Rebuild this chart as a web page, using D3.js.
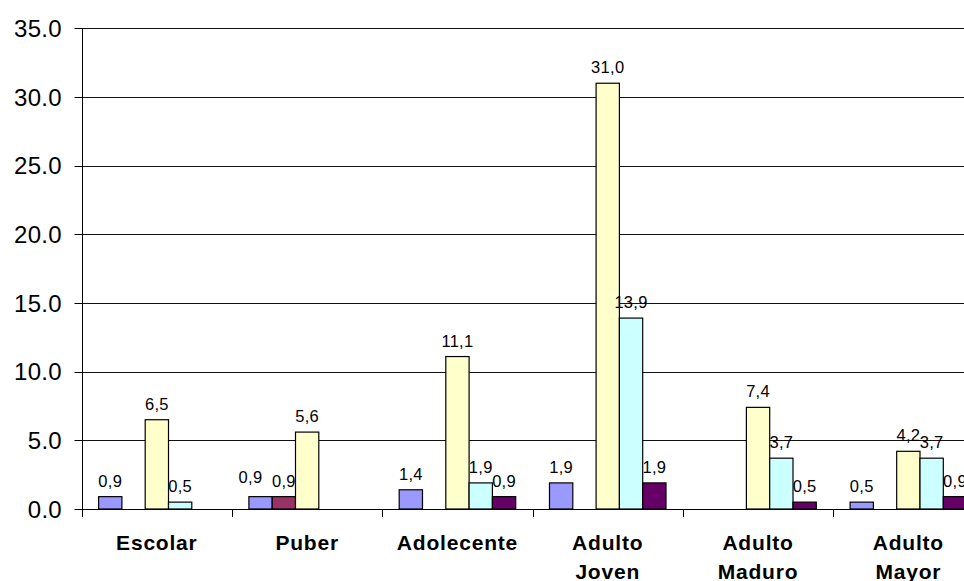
<!DOCTYPE html>
<html>
<head>
<meta charset="utf-8">
<script src="https://cdn.jsdelivr.net/npm/d3@7/dist/d3.min.js"></script>
<style>
  html, body { margin: 0; padding: 0; background: #fff; }
  svg { display: block; font-family: Arial, "Liberation Sans", sans-serif; }
</style>
</head>
<body>
<svg id="chart" width="964" height="581"></svg>
<script>
// Age groups (two-line labels split on "\n")
const categories = ["Escolar", "Puber", "Adolecente", "Adulto\nJoven", "Adulto\nMaduro", "Adulto\nMayor"];
// Five series; null = no bar in that group
const seriesNames = ["s1", "s2", "s3", "s4", "s5"];
const seriesColors = ["#9999FF", "#993366", "#FFFFCC", "#CCFFFF", "#660066"];
const s1 = [0.9, 0.9, 1.4, 1.9, null, 0.5];
const s2 = [null, 0.9, null, null, null, null];
const s3 = [6.5, 5.6, 11.1, 31.0, 7.4, 4.2];
const s4 = [0.5, null, 1.9, 13.9, 3.7, 3.7];
const s5 = [null, null, 0.9, 1.9, 0.5, 0.9];
const seriesValues = [s1, s2, s3, s4, s5];
const yTicks = [0, 5, 10, 15, 20, 25, 30, 35];

const svg = d3.select("#chart");
const W = 964, H = 581;
svg.append("rect").attr("width", W).attr("height", H).attr("fill", "#fff");

const plotLeft = 81.7, bandW = 150.3;
const plotTop = 28.3, plotBottom = 509;

const x0 = d3.scaleBand().domain(categories)
  .range([plotLeft, plotLeft + bandW * categories.length]).padding(0);
const x1 = d3.scaleBand().domain(seriesNames)
  .range([0, x0.bandwidth()]).paddingInner(0).paddingOuter(0.725);
const y = d3.scaleLinear().domain([0, 35]).range([plotBottom, plotTop]);
const fmt = d3.format(".1f");

// Horizontal gridlines
svg.append("g").selectAll("line").data(yTicks.filter(t => t > 0)).join("line")
  .attr("x1", plotLeft).attr("x2", W)
  .attr("y1", d => Math.round(y(d)) + 0.5).attr("y2", d => Math.round(y(d)) + 0.5)
  .attr("stroke", "#111").attr("stroke-width", 1);

// Y axis
const yAxis = svg.append("g").attr("transform", `translate(${Math.round(plotLeft) + 0.5},0)`);
yAxis.append("line").attr("x1", 0).attr("x2", 0)
  .attr("y1", Math.round(plotTop)).attr("y2", Math.round(plotBottom) + 0.5)
  .attr("stroke", "#000");
yAxis.selectAll("line.tick").data(yTicks).join("line").attr("class", "tick")
  .attr("x1", -8).attr("x2", 0)
  .attr("y1", d => Math.round(y(d)) + 0.5).attr("y2", d => Math.round(y(d)) + 0.5)
  .attr("stroke", "#000");
yAxis.selectAll("text").data(yTicks).join("text")
  .attr("x", -20.5).attr("y", d => y(d) + 8.7)
  .attr("text-anchor", "end").attr("font-size", 24).attr("letter-spacing", 0.3)
  .attr("fill", "#000")
  .text(d => fmt(d));

// X axis
const xAxis = svg.append("g");
xAxis.append("line").attr("x1", plotLeft).attr("x2", W)
  .attr("y1", Math.round(plotBottom) + 0.5).attr("y2", Math.round(plotBottom) + 0.5)
  .attr("stroke", "#000");
xAxis.selectAll("line.tick").data(categories).join("line").attr("class", "tick")
  .attr("x1", d => Math.round(x0(d)) + 0.5).attr("x2", d => Math.round(x0(d)) + 0.5)
  .attr("y1", Math.round(plotBottom)).attr("y2", Math.round(plotBottom) + 8)
  .attr("stroke", "#000");

const catLabels = xAxis.selectAll("text").data(categories).join("text")
  .attr("x", d => x0(d) + x0.bandwidth() / 2)
  .attr("y", 550)
  .attr("text-anchor", "middle").attr("font-size", 21).attr("font-weight", "bold")
  .attr("letter-spacing", 0.8)
  .attr("fill", "#000");
catLabels.each(function(d) {
  const parts = d.split("\n");
  const t = d3.select(this);
  parts.forEach((p, i) => {
    t.append("tspan").attr("x", x0(d) + x0.bandwidth() / 2)
      .attr("dy", i === 0 ? 0 : 28.5).text(p);
  });
});

// Bars
const bars = [];
seriesValues.forEach((vals, si) => {
  vals.forEach((v, ci) => {
    if (v !== null) bars.push({ cat: categories[ci], s: seriesNames[si], color: seriesColors[si], v });
  });
});

const g = svg.append("g");
g.selectAll("rect").data(bars).join("rect")
  .attr("x", d => x0(d.cat) + x1(d.s))
  .attr("y", d => y(d.v))
  .attr("width", x1.bandwidth())
  .attr("height", d => y(0) - y(d.v))
  .attr("fill", d => d.color)
  .attr("stroke", "#000").attr("stroke-width", 1.2);

// Value labels, centred above each bar
const labels = g.selectAll("text").data(bars).join("text")
  .attr("x", d => x0(d.cat) + x1(d.s) + x1.bandwidth() / 2)
  .attr("y", d => y(d.v) - 10)
  .attr("text-anchor", "middle").attr("font-size", 16.5).attr("letter-spacing", 0.3)
  .attr("fill", "#000")
  .text(d => d3.format(".1f")(d.v).replace(".", ","));

// Nudge a label left/up when it collides with its right-hand neighbour at the same height
const nodes = labels.nodes();
for (let i = 0; i < nodes.length; i++) {
  for (let j = 0; j < nodes.length; j++) {
    if (i === j) continue;
    const a = nodes[i].getBBox(), b = nodes[j].getBBox();
    const sameRow = Math.abs(a.y - b.y) < 4;
    if (sameRow && a.x < b.x && a.x + a.width > b.x - 4) {
      const nx = +nodes[i].getAttribute("x") - 10;
      const ny = +nodes[i].getAttribute("y") - 4;
      nodes[i].setAttribute("x", nx);
      nodes[i].setAttribute("y", ny);
    }
  }
}
</script>
</body>
</html>
